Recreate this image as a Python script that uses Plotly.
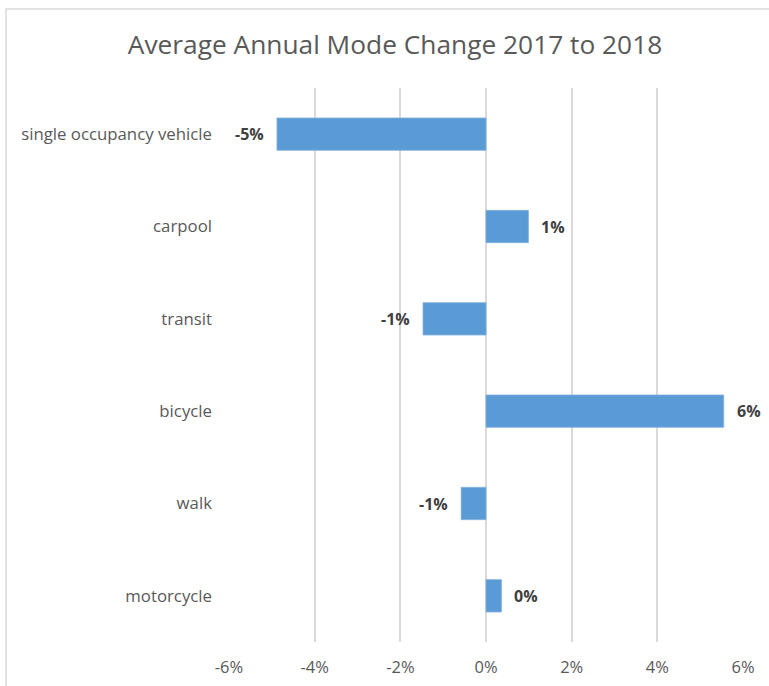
import plotly.graph_objects as go

categories = ["single occupancy vehicle", "carpool", "transit", "bicycle", "walk", "motorcycle"]
values = [-4.88, 0.99, -1.47, 5.55, -0.58, 0.36]  # percent
x_ticks = [-6, -4, -2, 0, 2, 4, 6]
x_tick_labels = ["-6%", "-4%", "-2%", "0%", "2%", "4%", "6%"]

FONT = "Open Sans"
BLUE = "#5B9BD5"
GRID = "#D9D9D9"

fig = go.Figure()
fig.add_trace(go.Bar(
    x=values, y=categories, orientation="h",
    marker=dict(color=BLUE, line=dict(color="#7FB0DE", width=0.8)),
    width=0.35, hoverinfo="skip",
))

for c, v in zip(categories, values):
    fig.add_annotation(
        x=v, y=c, xref="x", yref="y",
        text=f"{round(v):.0f}%",
        showarrow=False,
        xanchor="left" if v >= 0 else "right",
        xshift=11 if v >= 0 else -11,
        font=dict(family=FONT, size=16, color="#404040", weight="bold"),
    )

# chart-area border (cropped at right and bottom in the reference)
fig.add_shape(type="rect", xref="paper", yref="paper",
              x0=-0.4339, x1=1.2, y0=-0.2, y1=1.1426,
              line=dict(color=GRID, width=1.5), layer="below")

fig.update_layout(
    width=769, height=686,
    margin=dict(l=229, r=26, t=88, b=44),
    paper_bgcolor="white", plot_bgcolor="white",
    showlegend=False,
    title=dict(text="Average Annual Mode Change 2017 to 2018",
               x=(395) / 769, xanchor="center", y=1 - 45 / 686, yanchor="middle",
               font=dict(family=FONT, size=26.3, color="#595959")),
    xaxis=dict(range=[-6, 6], tickvals=x_ticks, ticktext=x_tick_labels,
               automargin=False,
               showgrid=True, gridcolor=GRID, gridwidth=1.5,
               zeroline=True, zerolinecolor=GRID, zerolinewidth=1.5,
               showline=False, ticks="", ticklabelstandoff=13,
               tickfont=dict(family=FONT, size=16.5, color="#595959")),
    yaxis=dict(categoryorder="array", categoryarray=categories, autorange="reversed",
               automargin=False,
               showgrid=False, zeroline=False, showline=False, ticks="",
               ticklabelstandoff=16,
               tickfont=dict(family=FONT, size=16.8, color="#595959")),
)

fig.write_html("out.html")
